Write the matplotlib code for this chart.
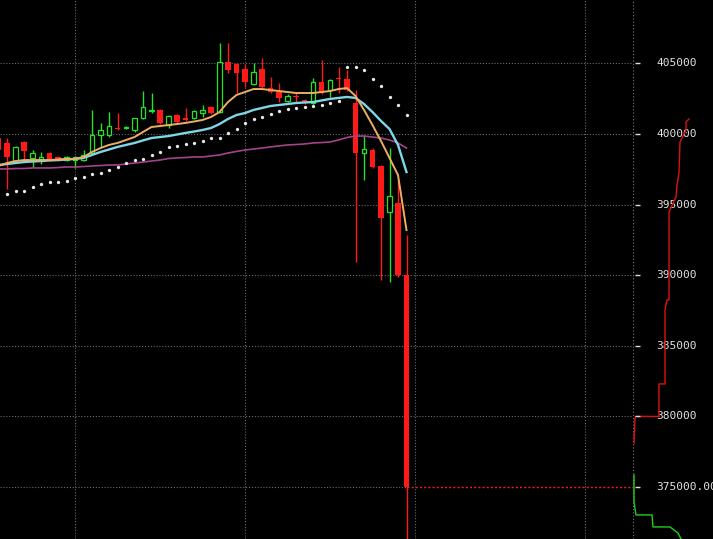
import matplotlib
matplotlib.use('Agg')
import matplotlib.pyplot as plt
import numpy as np

# ---- candle data (price) ----
opens = [399720, 399370, 398020, 399440, 398300, 398240, 398660, 398380, 398160, 398160,
         398160, 398660, 399935, 399940, 400430, 400400, 400290, 401140, 401600, 401710,
         400640, 401350, 401140, 401140, 401500, 401920, 401560, 405110, 404970, 404610,
         403550, 404610, 403260, 402980, 402340, 402660, 402410, 402200, 403690, 403120,
         403940, 403900, 402200, 398660, 398870, 397740, 394480, 395120, 390020]
highs = [399900, 399720, 399150, 399500, 398870, 398700, 398700, 398450, 398450, 398450,
         398870, 401710, 400785, 401570, 401500, 400550, 401140, 403050, 402910, 401780,
         401350, 401420, 401850, 401710, 402060, 401990, 406450, 406450, 405040, 404970,
         405040, 405390, 404040, 403620, 402840, 402910, 402480, 403970, 405250, 403900,
         404750, 404540, 403120, 399940, 399010, 397800, 399000, 396820, 392850]
lows = [398500, 396110, 397950, 398160, 397670, 397900, 398160, 398100, 398100, 397600,
        398100, 398600, 399085, 399800, 400290, 400330, 400150, 401100, 401490, 400720,
        400430, 400790, 400930, 401070, 401210, 401420, 401500, 404330, 402910, 403340,
        403480, 403260, 402910, 402270, 402270, 402200, 402130, 402130, 402840, 402630,
        402910, 403050, 390940, 396750, 397600, 389660, 389520, 389900, 371000]
closes = [398870, 398380, 399090, 398800, 398660, 398380, 398230, 398160, 398380, 398380,
          398520, 399940, 400290, 400570, 400360, 400470, 401140, 401920, 401680, 400790,
          401280, 400860, 401000, 401640, 401710, 401490, 405110, 404540, 404330, 403690,
          404400, 403340, 402980, 402560, 402700, 402600, 402200, 403690, 402910, 403830,
          403870, 403120, 398660, 398940, 397670, 394060, 395610, 390020, 375000]

# ---- indicator readings (price) ----
ema_fast = [397740, 397950, 398090, 398160, 398160, 398160, 398160, 398200, 398240, 398240,
            398380, 398730, 399010, 399230, 399370, 399580, 399790, 400150, 400500, 400570,
            400640, 400710, 400790, 400890, 401000, 401210, 401560, 402270, 402770, 402980,
            403190, 403190, 403120, 403050, 402980, 402910, 402910, 402910, 402980, 403050,
            403190, 403260, 402700, 401710, 400640, 399510, 398310, 397100, 393200]
ema_mid = [397810, 397880, 397950, 398020, 398060, 398090, 398130, 398160, 398200, 398240,
           398310, 398520, 398730, 398910, 399090, 399230, 399370, 399550, 399720, 399790,
           399860, 399970, 400080, 400180, 400290, 400430, 400710, 401070, 401350, 401490,
           401710, 401850, 401990, 402060, 402130, 402200, 402240, 402270, 402380, 402490,
           402560, 402630, 402560, 402130, 401560, 400930, 400360, 399230, 397310]
ma_slow = [397530, 397530, 397560, 397560, 397600, 397600, 397600, 397630, 397670, 397670,
           397700, 397740, 397770, 397810, 397810, 397880, 397950, 398020, 398090, 398160,
           398270, 398310, 398340, 398380, 398380, 398450, 398520, 398660, 398770, 398870,
           398940, 399010, 399090, 399160, 399230, 399260, 399300, 399370, 399400, 399440,
           399580, 399760, 399860, 399860, 399790, 399720, 399580, 399370, 399010]
sar = [np.nan, 395760, 395970, 396000, 396250, 396460, 396610, 396640, 396710, 396890,
       396960, 397170, 397240, 397460, 397670, 397920, 398160, 398240, 398520, 398730,
       399090, 399160, 399300, 399400, 399510, 399690, 399720, 400080, 400360, 400790,
       401070, 401210, 401420, 401640, 401780, 401850, 401920, 401990, 402060, 402200,
       402340, 404750, 404750, 404540, 403900, 403410, 402660, 402030, 401350]

# ---- order book depth (cumulative volume, price) ----
ask_volume = [1, 2, 3, 25, 26, 26, 32, 32, 34, 36, 36, 43, 44, 46, 47, 48, 53, 53, 56]
ask_price = [378120, 379890, 380000, 380000, 380000, 382300, 382300, 387540, 388250,
             388250, 394480, 395540, 396390, 397240, 399440, 399580, 400290, 400860, 401070]
bid_volume = [1, 1, 3, 19, 20, 37, 45, 48, 55]
bid_price = [375850, 373940, 373020, 373020, 372170, 372170, 371740, 371320, 370900]

price_levels = [405000, 400000, 395000, 390000, 385000, 380000]
level_labels = ["405000", "400000", "395000", "390000", "385000", "380000"]
last_price = 375000
last_label = "375000.00"
grid_candles = [9, 29, 49, 69]

# ---- style ----
RED = '#ff1a1a'
GREEN = '#22e422'
GRID = '#6a6a74'
GRID_LS = (0, (1, 1.6))
YLIM = (371316, 409498)

fig = plt.figure(figsize=(7.13, 5.39), dpi=100, facecolor='black')
ax = fig.add_axes([0, 0, 633 / 713, 1])
ax.set_facecolor('black')
ax.set_xlim(1.5 / 8.5, 634.5 / 8.5)
ax.set_ylim(*YLIM)
ax.axis('off')

# grid
for lv in price_levels:
    ax.axhline(lv, color=GRID, lw=0.8, ls=GRID_LS, zorder=1)
ax.hlines(last_price, 1.5 / 8.5, len(opens) - 1, colors=GRID, lw=0.8, ls=GRID_LS, zorder=1)
for gx in grid_candles:
    ax.axvline(gx, color=GRID, lw=0.8, ls=GRID_LS, zorder=1)

o = np.array(opens, float)
h = np.array(highs, float)
l = np.array(lows, float)
c = np.array(closes, float)
idx = np.arange(len(o))
up = c >= o
bottom = np.minimum(o, c)
height = np.maximum(np.abs(c - o), 90)

wick_colors = [GREEN if u else RED for u in up]
ax.vlines(idx, l, h, colors=wick_colors, lw=1.0, zorder=2)
ax.bar(idx[~up], height[~up], bottom=bottom[~up], width=0.62, color=RED,
       linewidth=0, zorder=3)
ax.bar(idx[up], height[up], bottom=bottom[up], width=0.58, facecolor='black',
       edgecolor=GREEN, linewidth=0.9, zorder=3)

# indicators
ax.plot(idx, ma_slow, color='#a3438c', lw=1.2, zorder=4)
ax.plot(idx, ema_mid, color='#7fd6e6', lw=1.7, zorder=4)
ax.plot(idx, ema_fast, color='#eeae62', lw=1.4, zorder=5)
ax.plot(idx, sar, 'o', ms=2.4, color='#e8e8e8', mec='none', zorder=6)

# last price line
ax.hlines(last_price, idx[-1], 634.5 / 8.5, colors='#e82020', lw=1.0, ls=(0, (1.5, 1.5)), zorder=2)

# ---- depth / price scale area ----
dax = fig.add_axes([633 / 713, 0, 80 / 713, 1])
dax.set_facecolor('none')
dax.set_xlim(0, 80)
dax.set_ylim(*YLIM)
dax.axis('off')
dax.axvline(0.3, color=GRID, lw=0.9, ls=GRID_LS, zorder=1)
for lv in price_levels + [last_price]:
    dax.hlines(lv, 2, 7, colors='#dcdcdc', lw=1.0, zorder=3)
dax.plot(ask_volume, ask_price, color='#e01010', lw=1.0, zorder=2)
dax.plot(bid_volume, bid_price, color='#20d020', lw=1.0, zorder=2)

for lv, lab in zip(price_levels, level_labels):
    ax.annotate(lab, xy=(656, lv), xycoords=('figure pixels', 'data'),
                va='center', ha='left', color='#e2e2e2', fontsize=8,
                family='DejaVu Sans Mono', annotation_clip=False)
ax.annotate(last_label, xy=(656, last_price), xycoords=('figure pixels', 'data'),
            va='center', ha='left', color='#e2e2e2', fontsize=8,
            family='DejaVu Sans Mono', annotation_clip=False)

fig.savefig('out.png', dpi=100, facecolor='black')
